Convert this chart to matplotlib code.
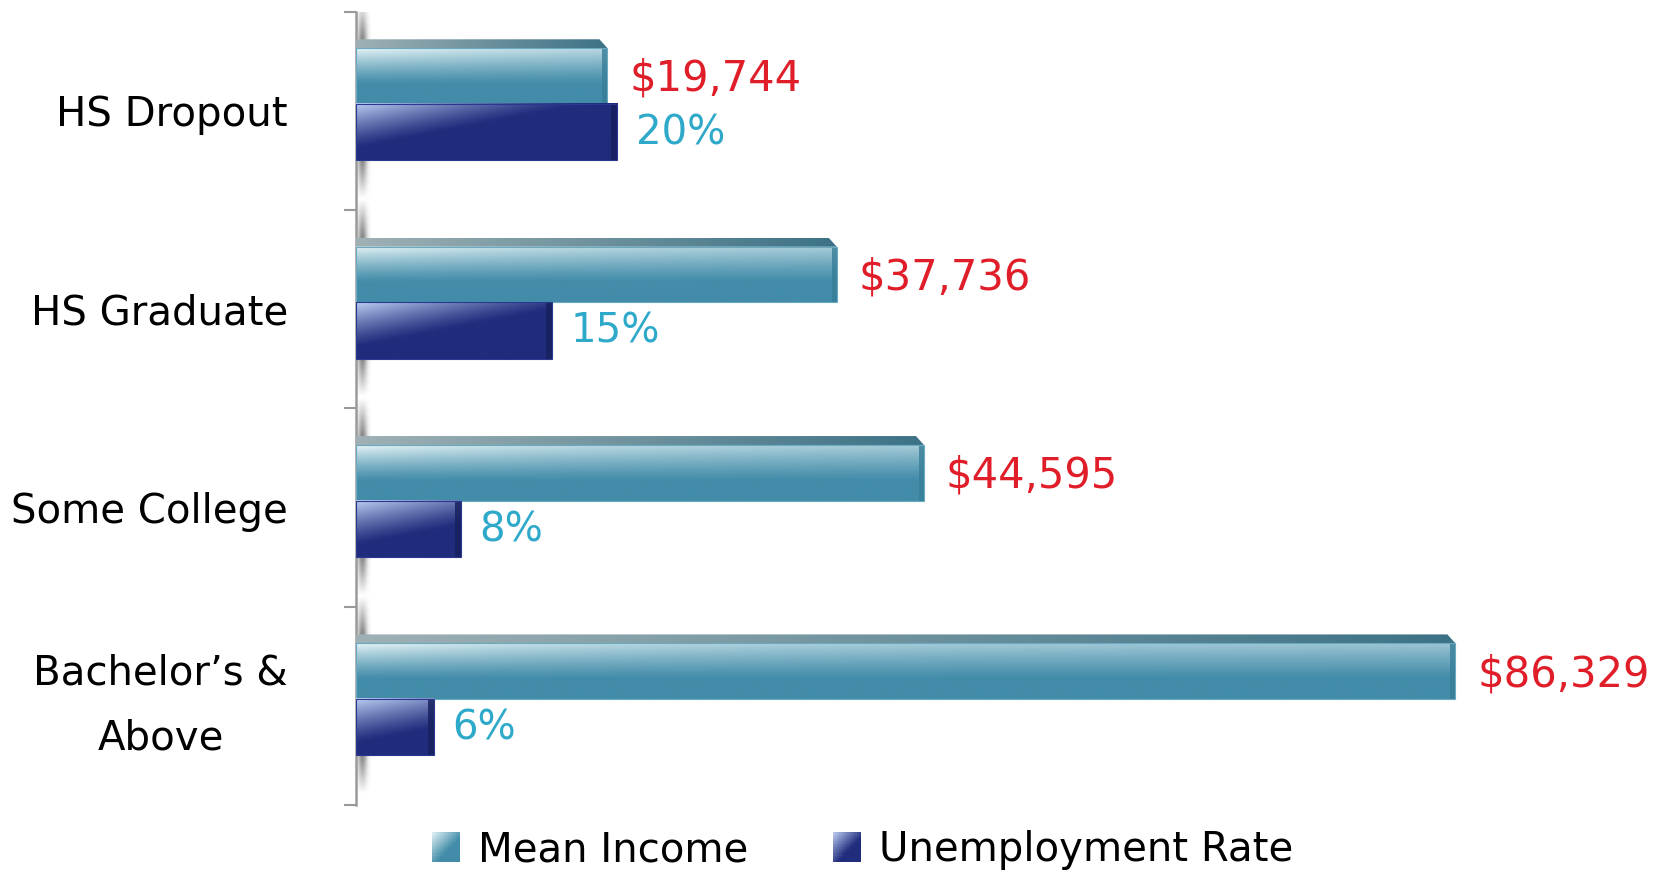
import numpy as np
import matplotlib
matplotlib.use("Agg")
import matplotlib.pyplot as plt
from matplotlib.patches import Rectangle, Polygon
from matplotlib.legend_handler import HandlerBase
from matplotlib.colors import to_rgb

# ---------------- data ----------------
categories = ["HS Dropout", "HS Graduate", "Some College", "Bachelor\u2019s &\nAbove"]
mean_income = [19744, 37736, 44595, 86329]
unemployment_rate = [20, 15, 8, 6]
income_labels = ["$19,744", "$37,736", "$44,595", "$86,329"]
rate_labels = ["20%", "15%", "8%", "6%"]
series_names = ["Mean Income", "Unemployment Rate"]

# ---------------- style ----------------
W, H, DPI = 16.56, 8.72, 100
AX_RECT = [0.215, 0.0768, 0.769, 0.910]
XMAX = 100000
RATE_MAX = 97.5

INC_LIGHT, INC_BASE = np.array(to_rgb("#e2f2f5")), np.array(to_rgb("#428ca9"))
TOP_LIGHT, TOP_BASE = np.array(to_rgb("#aab8ba")), np.array(to_rgb("#3c7286"))
RATE_LIGHT, RATE_BASE = np.array(to_rgb("#bccdf2")), np.array(to_rgb("#202c7c"))
INC_SIDE = "#377e98"
RATE_SIDE = "#17215f"
RED = "#e01e2a"
CYAN = "#2ea9c9"
GRAY = "#9a9a9a"

fig = plt.figure(figsize=(W, H), dpi=DPI)
ax = fig.add_axes(AX_RECT)
ax.set_xlim(0, XMAX)
ax.set_ylim(3.5, -0.5)
ax2 = ax.twiny()
ax2.set_xlim(0, RATE_MAX)

px_per_unit_x = W * DPI * AX_RECT[2] / XMAX
px_per_rate = W * DPI * AX_RECT[2] / RATE_MAX
px_per_unit_y = H * DPI * AX_RECT[3] / 4.0

INC_TOP, INC_BOT = -0.36, -0.035
FACE = 0.045
RATE_TOP, RATE_BOT = -0.035, 0.25


def bar_gradient(w_px, h_px, light, base, kind):
    nx = max(int(w_px), 2)
    ny = max(int(h_px), 2)
    u = np.arange(nx)[None, :].astype(float)
    v = np.linspace(0, 1, ny)[:, None]
    if kind == "income":
        w = np.clip(1 - v / 0.65, 0, 1) ** 1.2 * (0.55 + 0.45 * np.exp(-u / 300.0))
    elif kind == "top":
        w = np.repeat(1 - u / nx, ny, axis=0) * 0.9
    else:
        w = np.clip(1 - v / 0.8 - u / 230.0, 0, 1) ** 1.2
    img = base[None, None, :] * (1 - w[..., None]) + light[None, None, :] * w[..., None]
    return np.clip(img, 0, 1)


# axis shadow (one soft smear per category, next to the axis)
sh_w = 16 / px_per_unit_x
uu = np.linspace(0, 1, 40)[None, :]
vv = np.linspace(0, 1, 60)[:, None]
shade = np.zeros((60, 40, 4))
shade[..., :3] = 0.42
shade[..., 3] = 0.8 * np.exp(-((uu - 0.4) / 0.3) ** 2) * np.clip(np.sin(np.pi * vv) * 1.8, 0, 1)
for i in range(len(categories)):
    ax.imshow(shade, extent=(0, sh_w, RATE_BOT + i + 0.2, INC_TOP + i - 0.2),
              aspect="auto", origin="upper", zorder=1, interpolation="bilinear")

side_inc = 5 / px_per_unit_x
side_rate = 6 / px_per_rate
for i in range(len(categories)):
    val = mean_income[i]
    # income main face
    h_px = (INC_BOT - INC_TOP - FACE) * px_per_unit_y
    img = bar_gradient(val * px_per_unit_x, h_px, INC_LIGHT, INC_BASE, "income")
    ax.imshow(img, extent=(0, val, INC_BOT + i, INC_TOP + FACE + i), origin="upper",
              aspect="auto", zorder=3, interpolation="bilinear")
    ax.add_patch(Rectangle((val - side_inc, INC_TOP + FACE + i), side_inc,
                           INC_BOT - INC_TOP - FACE, facecolor=INC_SIDE,
                           edgecolor="none", alpha=0.8, zorder=3.5))
    ax.add_patch(Rectangle((0, INC_TOP + FACE + i), val, INC_BOT - INC_TOP - FACE,
                           facecolor="none", edgecolor="#6aa9bf", lw=0.8, zorder=4))
    # income top face
    d = 8 / px_per_unit_x
    img_t = bar_gradient(val * px_per_unit_x, FACE * px_per_unit_y, TOP_LIGHT, TOP_BASE, "top")
    im_t = ax.imshow(img_t, extent=(0, val, INC_TOP + FACE + i, INC_TOP + i), origin="upper",
                     aspect="auto", zorder=3, interpolation="bilinear")
    poly = Polygon([(0, INC_TOP + FACE + i), (val, INC_TOP + FACE + i),
                    (val - d, INC_TOP + i), (0, INC_TOP + i)], closed=True,
                   facecolor="none", edgecolor="none", transform=ax.transData)
    ax.add_patch(poly)
    im_t.set_clip_path(poly)

    # unemployment rate bar
    r = unemployment_rate[i]
    img_r = bar_gradient(r * px_per_rate, (RATE_BOT - RATE_TOP) * px_per_unit_y,
                         RATE_LIGHT, RATE_BASE, "rate")
    ax2.imshow(img_r, extent=(0, r, RATE_BOT + i, RATE_TOP + i), origin="upper",
               aspect="auto", zorder=2, interpolation="bilinear")
    ax2.add_patch(Rectangle((r - side_rate, RATE_TOP + i), side_rate, RATE_BOT - RATE_TOP,
                            facecolor=RATE_SIDE, edgecolor="none", alpha=0.85, zorder=2.2))
    ax2.add_patch(Rectangle((0, RATE_TOP + i), r, RATE_BOT - RATE_TOP,
                            facecolor="none", edgecolor="#2a3890", lw=0.8, zorder=2.5))

    # value labels
    ax.text(val + 1700, i - 0.16, income_labels[i], color=RED, fontsize=30,
            va="center", ha="left", zorder=5)
    ax2.text(r + 1.4, i + 0.115, rate_labels[i], color=CYAN, fontsize=29,
             va="center", ha="left", zorder=5)

ax.set_xlim(0, XMAX)
ax.set_ylim(3.5, -0.5)
ax2.set_xlim(0, RATE_MAX)

# axes styling
for s in ["top", "right", "bottom"]:
    ax.spines[s].set_visible(False)
for s in ax2.spines.values():
    s.set_visible(False)
ax.spines["left"].set_color(GRAY)
ax.spines["left"].set_linewidth(1.8)
ax.set_xticks([])
ax2.set_xticks([])
ax.set_yticks(range(len(categories)))
ax.set_yticklabels(categories, fontsize=29, multialignment="center", linespacing=1.8)
ax.set_yticks([-0.5, 0.5, 1.5, 2.5, 3.5], minor=True)
ax.tick_params(axis="y", which="major", length=0, pad=49)
ax.tick_params(axis="y", which="minor", length=9, width=1.5, color=GRAY)
ax.get_yticklabels()[3].set_va("center")


# legend with gradient squares
class GradHandler(HandlerBase):
    def __init__(self, light, base):
        super().__init__()
        self.light = light
        self.base = base

    def create_artists(self, legend, orig_handle, xdescent, ydescent, width, height,
                       fontsize, trans):
        n = 14
        arts = []
        x0, y0 = -xdescent, -ydescent
        for a in range(n):
            for b in range(n):
                u = (a + 0.5) / n
                v = (b + 0.5) / n
                w = np.clip(1 - (u + (1 - v)) * 0.85, 0, 1)
                c = self.base * (1 - w) + self.light * w
                arts.append(Rectangle((x0 + a * width / n, y0 + b * height / n),
                                      width / n * 1.08, height / n * 1.08,
                                      facecolor=c, edgecolor="none", transform=trans))
        return arts


h1 = Rectangle((0, 0), 1, 1)
h2 = Rectangle((0, 0), 1, 1)
fig.legend([h1, h2], series_names, loc="center", bbox_to_anchor=(0.521, 0.025),
           ncol=2, frameon=False, fontsize=29, handlelength=0.7, handleheight=0.75,
           handletextpad=0.45, columnspacing=2.1,
           handler_map={h1: GradHandler(INC_LIGHT, INC_BASE),
                        h2: GradHandler(RATE_LIGHT, RATE_BASE)})

fig.savefig("out.png", dpi=DPI)
